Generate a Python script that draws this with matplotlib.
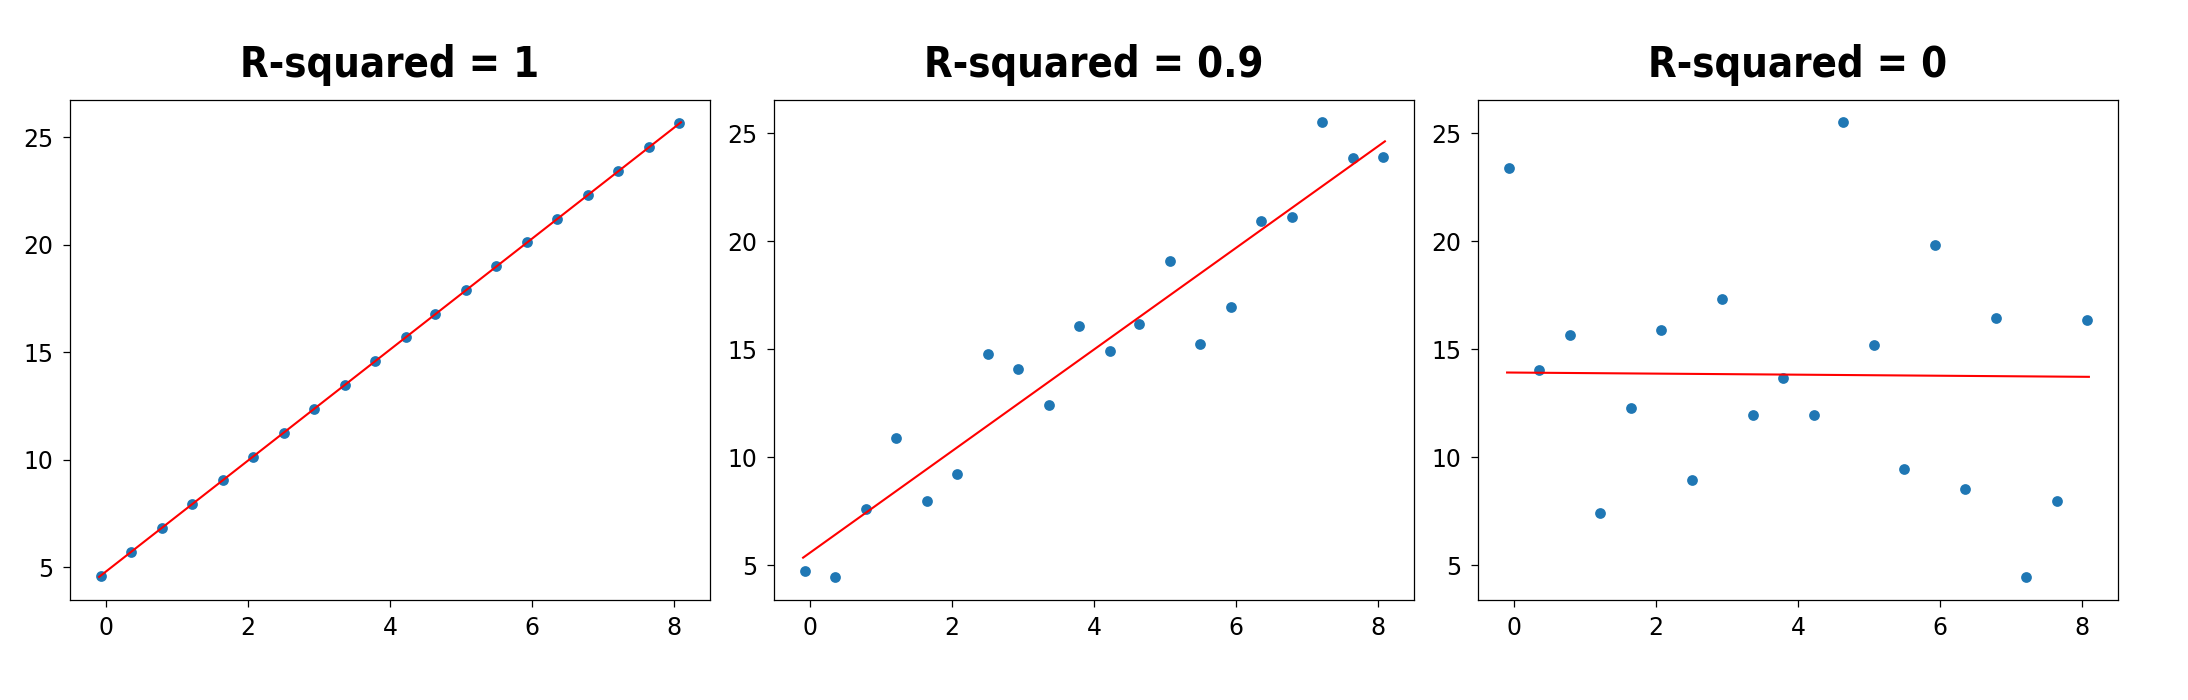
import numpy as np
import matplotlib
matplotlib.use('Agg')
import matplotlib.pyplot as plt

# x positions shared by the three panels
x = [-0.08, 0.35, 0.78, 1.21, 1.64, 2.07, 2.50, 2.93, 3.36, 3.79,
     4.22, 4.64, 5.07, 5.50, 5.93, 6.36, 6.79, 7.22, 7.65, 8.08]

# panel values
y_r1 = [4.59, 5.68, 6.80, 7.91, 9.03, 10.14, 11.24, 12.35, 13.47, 14.57,
        15.68, 16.78, 17.89, 18.99, 20.10, 21.20, 22.31, 23.43, 24.55, 25.64]
y_r09 = [4.73, 4.46, 7.58, 10.90, 7.99, 9.23, 14.78, 14.10, 12.43, 16.06,
         14.93, 16.16, 19.10, 15.24, 16.93, 20.92, 21.10, 25.50, 23.85, 23.91]
y_r0 = [23.37, 14.04, 15.65, 7.41, 12.28, 15.89, 8.93, 17.34, 11.95, 13.66,
        11.95, 25.50, 15.21, 9.44, 19.80, 8.55, 16.43, 4.46, 7.95, 16.37]

# fitted line end points
line_x = [-0.1, 8.1]
line_r1 = [4.54, 25.69]
line_r09 = [5.35, 24.62]
line_r0 = [13.92, 13.72]

titles = ['R-squared = 1', 'R-squared = 0.9', 'R-squared = 0']
series = [y_r1, y_r09, y_r0]
lines = [line_r1, line_r09, line_r0]

fig, axes = plt.subplots(nrows=1, ncols=3, figsize=(21.88, 7), dpi=100)
plt.subplots_adjust(left=0.032, right=0.968, bottom=0.1434, top=0.8577, wspace=0.1)

for ax, t, y, ly in zip(axes, titles, series, lines):
	ax.scatter(x, y, s=60, color='#1f77b4', linewidths=0, zorder=2)
	ax.plot(line_x, ly, color='red', lw=1.5, zorder=3)
	ax.set_title(t, fontsize=30, fontweight='bold', fontstretch='condensed',
		family='DejaVu Sans', pad=16)
	ax.set_xticks([0, 2, 4, 6, 8])
	ax.set_yticks([5, 10, 15, 20, 25])
	ax.tick_params(labelsize=17, length=5, width=0.9, pad=7)
	for sp in ax.spines.values():
		sp.set_linewidth(0.9)

plt.savefig('out.png', dpi=100)
